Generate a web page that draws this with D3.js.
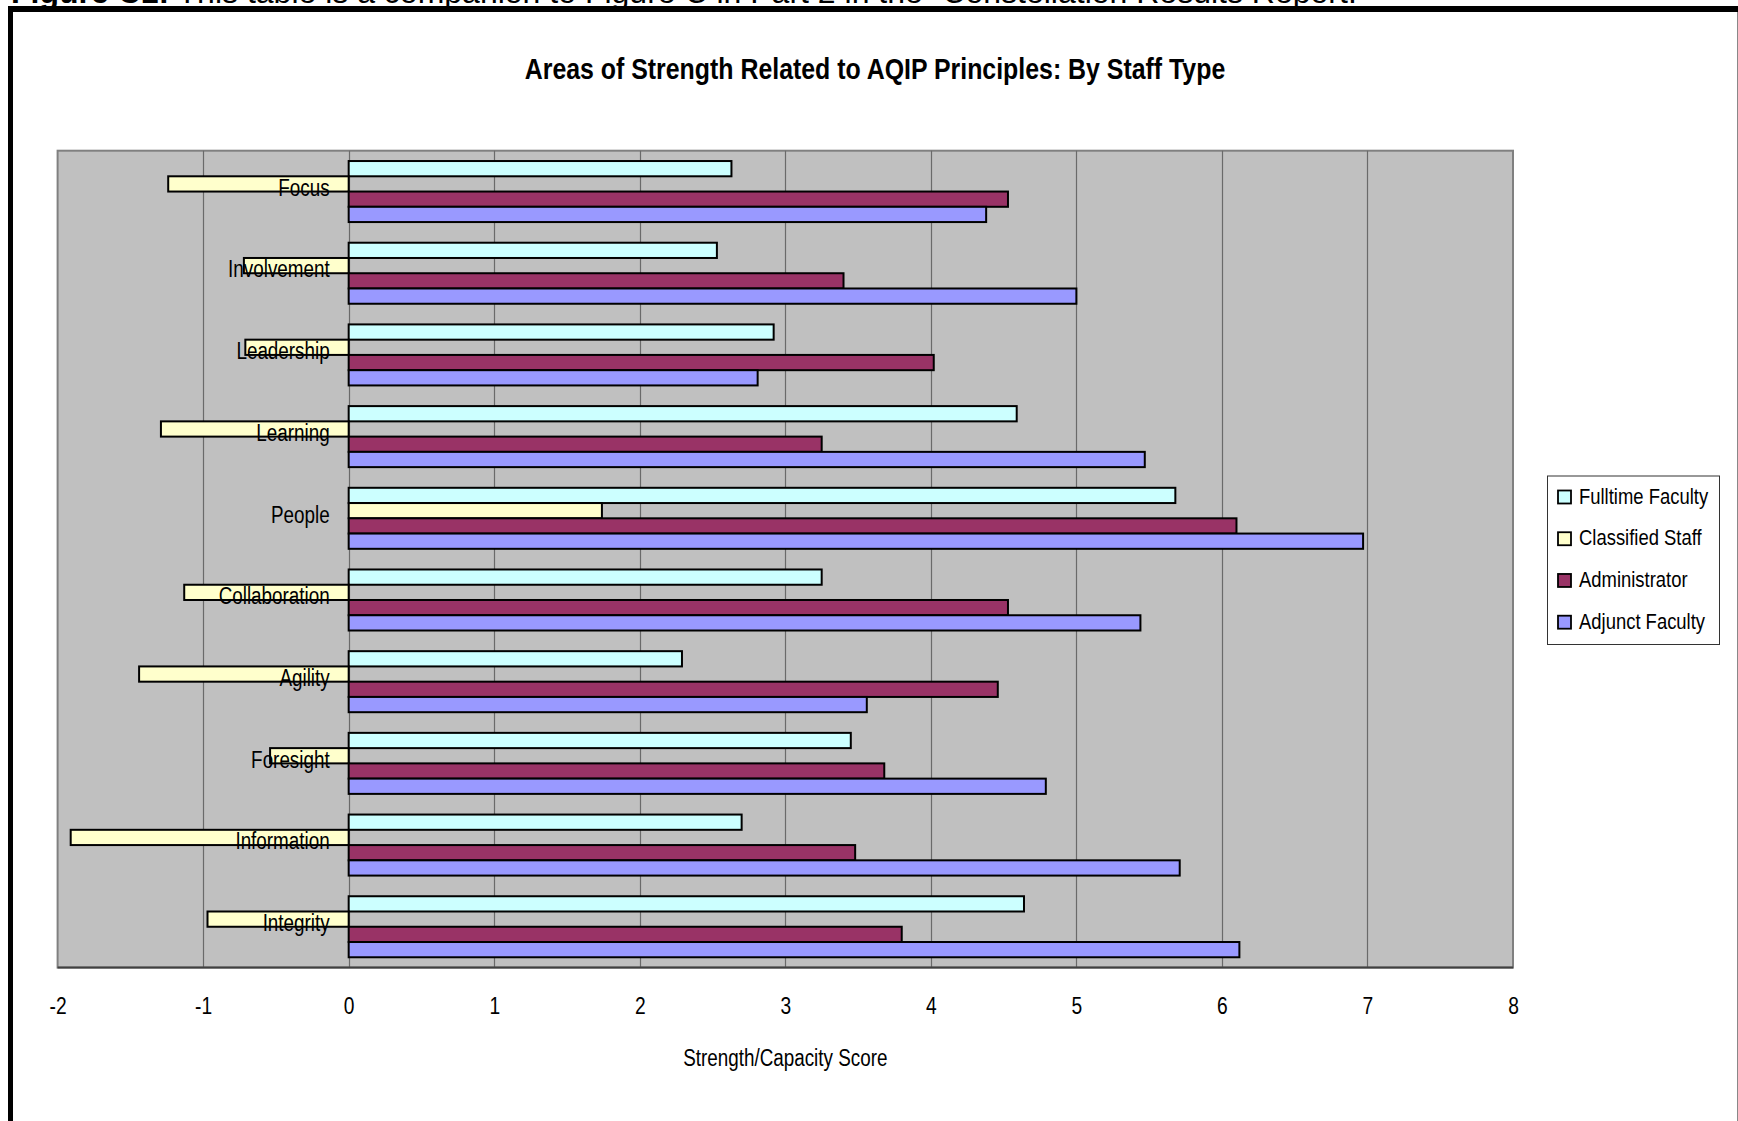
<!DOCTYPE html>
<html>
<head>
<meta charset="utf-8">
<script src="https://cdn.jsdelivr.net/npm/d3@7"></script>
<style>
  html, body { margin: 0; padding: 0; background: #fff; overflow: hidden; }
  svg { display: block; }
  text { font-family: "Liberation Sans", Arial, sans-serif; }
</style>
</head>
<body>
<svg id="chart" width="1738" height="1121"></svg>
<script>
// AQIP principles, top to bottom
const categories = ["Focus", "Involvement", "Leadership", "Learning", "People",
                    "Collaboration", "Agility", "Foresight", "Information", "Integrity"];

// Staff types, in bar order within each principle
const seriesNames = ["Fulltime Faculty", "Classified Staff", "Administrator", "Adjunct Faculty"];

// Strength/capacity scores per staff type (same order as categories)
const fulltimeFaculty = [2.63, 2.53, 2.92, 4.59, 5.68, 3.25, 2.29, 3.45, 2.70, 4.64];
const classifiedStaff = [-1.24, -0.72, -0.71, -1.29, 1.74, -1.13, -1.44, -0.54, -1.91, -0.97];
const administrator   = [4.53, 3.40, 4.02, 3.25, 6.10, 4.53, 4.46, 3.68, 3.48, 3.80];
const adjunctFaculty  = [4.38, 5.00, 2.81, 5.47, 6.97, 5.44, 3.56, 4.79, 5.71, 6.12];

const xTicks = [-2, -1, 0, 1, 2, 3, 4, 5, 6, 7, 8];

const seriesValues = [fulltimeFaculty, classifiedStaff, administrator, adjunctFaculty];
const colors = ["#CCFFFF", "#FFFFCC", "#993366", "#9999FF"];

// Condensed look for chart text: regular sans squeezed horizontally
const NARROW = 0.82;
function narrowText(parent, x, y, size, str, opts = {}) {
  return parent.append("text")
    .attr("transform", `translate(${x},${y}) scale(${opts.sx || NARROW},1)`)
    .attr("text-anchor", opts.anchor || "start")
    .attr("dominant-baseline", "central")
    .attr("font-size", size)
    .attr("font-weight", opts.weight || "normal")
    .attr("fill", "#000")
    .text(str);
}

const svg = d3.select("#chart");

// Page caption (sits partly above the top edge) and frame
svg.append("text")
  .attr("x", 11).attr("y", 3)
  .attr("font-size", 32)
  .call(t => {
    t.append("tspan").attr("font-weight", "bold").text("Figure C1:");
    t.append("tspan").text(" This table is a companion to Figure C in Part 2 in the \u201CConstellation Results Report.\u201D");
  });

svg.append("line").attr("x1", 8).attr("x2", 1738).attr("y1", 9).attr("y2", 9)
  .attr("stroke", "#000").attr("stroke-width", 6);
svg.append("line").attr("x1", 10.5).attr("x2", 10.5).attr("y1", 6).attr("y2", 1121)
  .attr("stroke", "#000").attr("stroke-width", 5);
svg.append("line").attr("x1", 1737.5).attr("x2", 1737.5).attr("y1", 12).attr("y2", 1121)
  .attr("stroke", "#888").attr("stroke-width", 1);

// Title
narrowText(svg, 875, 69, 30, "Areas of Strength Related to AQIP Principles: By Staff Type",
  { anchor: "middle", weight: "bold", sx: 0.83 });

// Plot area
const plot = { left: 57.6, right: 1513, top: 150.7, bottom: 967.6 };

const x = d3.scaleLinear().domain([-2, 8]).range([plot.left, plot.right]);
const y = d3.scaleBand().domain(categories).range([plot.top, plot.bottom])
  .paddingInner(0.253).paddingOuter(0.1265);
const ySub = d3.scaleBand().domain(seriesNames).range([0, y.bandwidth()]);

svg.append("rect")
  .attr("x", plot.left).attr("y", plot.top)
  .attr("width", plot.right - plot.left).attr("height", plot.bottom - plot.top)
  .attr("fill", "#C0C0C0").attr("stroke", "#808080").attr("stroke-width", 2);

// Vertical gridlines
svg.append("g")
  .selectAll("line")
  .data(xTicks.slice(1, -1))
  .join("line")
  .attr("x1", d => Math.round(x(d)) + 0.5).attr("x2", d => Math.round(x(d)) + 0.5)
  .attr("y1", plot.top).attr("y2", plot.bottom)
  .attr("stroke", "#6a6a6a").attr("stroke-width", 1.2);

// Bottom axis line
svg.append("line")
  .attr("x1", plot.left).attr("x2", plot.right)
  .attr("y1", plot.bottom).attr("y2", plot.bottom)
  .attr("stroke", "#404040").attr("stroke-width", 2);

// Bars
const barData = [];
categories.forEach((c, i) => {
  seriesNames.forEach((s, j) => {
    barData.push({ cat: c, series: s, value: seriesValues[j][i], color: colors[j] });
  });
});

svg.append("g")
  .selectAll("rect")
  .data(barData)
  .join("rect")
  .attr("x", d => x(Math.min(0, d.value)))
  .attr("y", d => y(d.cat) + ySub(d.series))
  .attr("width", d => Math.abs(x(d.value) - x(0)))
  .attr("height", ySub.bandwidth())
  .attr("fill", d => d.color)
  .attr("stroke", "#000").attr("stroke-width", 2);

// Category labels next to the zero axis
const catG = svg.append("g");
categories.forEach(c => {
  narrowText(catG, x(0) - 19, y(c) + y.bandwidth() / 2 - 4, 23, c, { anchor: "end" });
});

// Value axis tick labels
const xAxis = d3.axisBottom(x).tickValues(xTicks).tickSize(0).tickPadding(0)
  .tickFormat(d => String(d));
const axisG = svg.append("g")
  .attr("transform", `translate(0, 1006)`)
  .call(xAxis);
axisG.select(".domain").remove();
axisG.selectAll("text")
  .attr("font-family", null)
  .attr("font-size", 24)
  .attr("fill", "#000")
  .attr("y", 0).attr("dy", null)
  .attr("dominant-baseline", "central")
  .attr("transform", `scale(0.8,1)`);

// Axis title
narrowText(svg, (plot.left + plot.right) / 2, 1058, 23, "Strength/Capacity Score", { anchor: "middle" });

// Legend
const legend = { x: 1547, y: 475.5, w: 172, h: 168.5 };
svg.append("rect")
  .attr("x", legend.x + 0.5).attr("y", legend.y + 0.5)
  .attr("width", legend.w).attr("height", legend.h)
  .attr("fill", "#fff").attr("stroke", "#333").attr("stroke-width", 1);

const legendY = d3.scalePoint().domain(seriesNames).range([495.5, 620.7]);
seriesNames.forEach((s, i) => {
  const g = svg.append("g").attr("transform", `translate(0, ${legendY(s)})`);
  g.append("rect")
    .attr("x", 1558).attr("y", -5).attr("width", 13).attr("height", 13)
    .attr("fill", colors[i]).attr("stroke", "#000").attr("stroke-width", 1.8);
  narrowText(g, 1579, 0, 22.5, s);
});
</script>
</body>
</html>
